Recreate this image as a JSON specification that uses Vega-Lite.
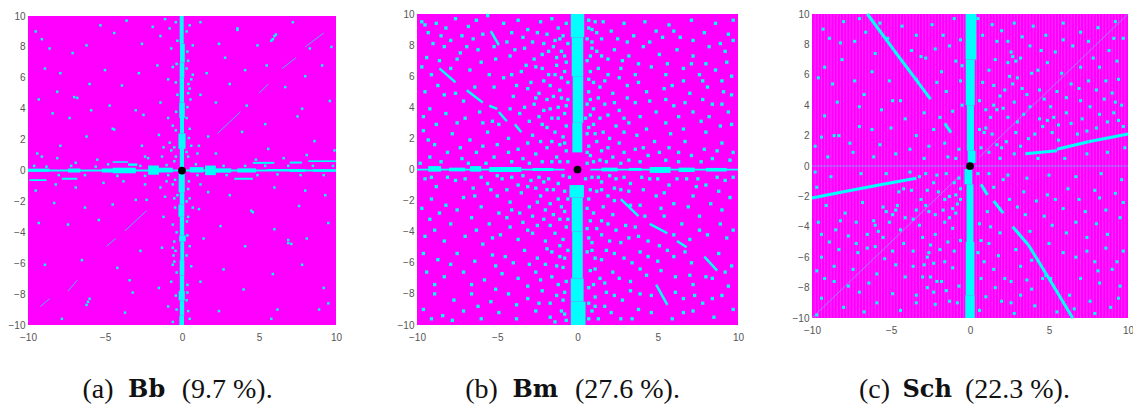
{"$schema":"https://vega.github.io/schema/vega-lite/v6.json","padding":{"left":8,"top":9,"right":0,"bottom":0},"background":"white","spacing":48,
"config":{"view":{"stroke":null},"axisX":{"title":null,"grid":false,"domain":false,"ticks":false,"labelPadding":7,"labelFont":"Liberation Sans","labelFontSize":10,"labelColor":"#555555","labelFlush":false,"labelOverlap":false},"axisY":{"title":null,"grid":false,"domain":false,"ticks":false,"labelPadding":3,"labelFont":"Liberation Sans","labelFontSize":10,"labelColor":"#555555","labelOverlap":false}},
"datasets":{
"bg":[{"x":-10,"x2":10,"y":-10,"y2":10}],
"dot":[{"x":0,"y":0}],
"capA":[{"x":-6.46,"y":-14.2,"t":"(a)"},{"x":-0.02,"y":-14.2,"t":"(9.7 %)."}],
"capAb":[{"x":-3.5,"y":-14.2,"t":"Bb"}],
"capB":[{"x":-7.0,"y":-14.2,"t":"(b)"},{"x":-0.16,"y":-14.2,"t":"(27.6 %)."}],
"capBb":[{"x":-4.05,"y":-14.2,"t":"Bm"}],
"capC":[{"x":-7.03,"y":-14.75,"t":"(c)"},{"x":-0.32,"y":-14.75,"t":"(22.3 %)."}],
"capCb":[{"x":-4.27,"y":-14.75,"t":"Sch"}],
"aRect":[{"x":-10,"x2":10,"y":-0.07,"y2":0.07},{"x":-10,"x2":-8.6,"y":-0.08,"y2":0.12},{"x":-7.4,"x2":-6.6,"y":-0.13,"y2":0.13},{"x":-5.2,"x2":-4.4,"y":-0.13,"y2":0.13},{"x":-4.5,"x2":-3,"y":-0.18,"y2":0.18},{"x":-2.2,"x2":-1.5,"y":-0.28,"y2":0.32},{"x":-1.5,"x2":-0.6,"y":-0.13,"y2":0.18},{"x":0.5,"x2":1.4,"y":-0.13,"y2":0.22},{"x":1.5,"x2":2.2,"y":-0.3,"y2":0.32},{"x":2.2,"x2":3.2,"y":-0.14,"y2":0.14},{"x":3.6,"x2":4.8,"y":-0.13,"y2":0.14},{"x":5.5,"x2":7,"y":0,"y2":0.1},{"x":7,"x2":8,"y":-0.09,"y2":0.09},{"x":8.5,"x2":10,"y":-0.08,"y2":0.08},{"x":-4.5,"x2":-3.5,"y":0.5,"y2":0.6},{"x":-3.5,"x2":-2.9,"y":0.3,"y2":0.46},{"x":-9.9,"x2":-8.8,"y":-0.68,"y2":-0.56},{"x":-7.8,"x2":-6.8,"y":-0.6,"y2":-0.47},{"x":3.4,"x2":4.6,"y":-0.6,"y2":-0.47},{"x":4.6,"x2":6,"y":0.43,"y2":0.56},{"x":7,"x2":7.8,"y":0.45,"y2":0.58},{"x":8.2,"x2":10,"y":0.55,"y2":0.66},{"y":-10,"y2":-9.4,"x":-0.17,"x2":0.13},{"y":-9.4,"y2":-8.4,"x":-0.14,"x2":0.14},{"y":-8.4,"y2":-7.8,"x":-0.22,"x2":0.18},{"y":-7.8,"y2":-6.8,"x":-0.14,"x2":0.14},{"y":-6.8,"y2":-5.8,"x":-0.15,"x2":0.15},{"y":-5.8,"y2":-4.6,"x":-0.11,"x2":0.14},{"y":-4.6,"y2":-4.2,"x":-0.18,"x2":0.24},{"y":-4.2,"y2":-3,"x":-0.14,"x2":0.14},{"y":-3,"y2":-2.2,"x":-0.23,"x2":0.15},{"y":-2.2,"y2":-1.4,"x":-0.15,"x2":0.15},{"y":-1.4,"y2":-0.2,"x":-0.22,"x2":0.18},{"y":0.2,"y2":1.4,"x":-0.14,"x2":0.13},{"y":1.4,"y2":2.4,"x":-0.23,"x2":0.23},{"y":2.4,"y2":3.4,"x":-0.13,"x2":0.13},{"y":3.4,"y2":4.4,"x":-0.18,"x2":0.18},{"y":4.4,"y2":6,"x":-0.15,"x2":0.13},{"y":6,"y2":7,"x":-0.15,"x2":0.15},{"y":7,"y2":8.2,"x":-0.13,"x2":0.18},{"y":8.2,"y2":10,"x":-0.15,"x2":0.11}],
"aLine":[{"x":2.3,"y":2.4,"x2":3.8,"y2":3.8},{"x":5,"y":5,"x2":5.6,"y2":5.6},{"x":6.5,"y":6.6,"x2":7.4,"y2":7.3},{"x":8,"y":8,"x2":9.2,"y2":8.9},{"x":-3.7,"y":-3.9,"x2":-2.3,"y2":-2.6},{"x":-4.9,"y":-4.9,"x2":-4.3,"y2":-4.4},{"x":-7.4,"y":-7.8,"x2":-6.8,"y2":-7.1},{"x":-9.2,"y":-8.8,"x2":-8.6,"y2":-8.3}],
"aPts":[{"x":5.9,"y":8.5},{"x":6,"y":8.7},{"x":6.1,"y":8.8},{"x":5.8,"y":8.4},{"x":-6.2,"y":-8.7},{"x":-6.1,"y":-8.5},{"x":-6,"y":-8.3},{"x":-7,"y":4.75},{"x":-6.8,"y":4.7},{"x":6.9,"y":-4.7},{"x":7.1,"y":-4.75},{"x":6.9,"y":-4.5},{"x":-9.5,"y":9},{"x":-9.1,"y":8.5},{"x":-8.6,"y":7.9},{"x":-8.9,"y":6.6},{"x":-7.9,"y":6.3},{"x":-7.1,"y":7.6},{"x":-6.2,"y":8.1},{"x":-5.3,"y":9.4},{"x":-4.4,"y":8.9},{"x":-3.6,"y":9.7},{"x":-2.6,"y":8.2},{"x":-1.9,"y":9.3},{"x":-1.4,"y":8.7},{"x":-1.1,"y":9.8},{"x":-0.8,"y":9.2},{"x":-0.7,"y":7.9},{"x":-0.6,"y":6.7},{"x":-0.9,"y":5.9},{"x":-1.6,"y":6.8},{"x":-2.8,"y":6.3},{"x":-3.9,"y":5.5},{"x":-5,"y":6.5},{"x":-6,"y":5.6},{"x":-8.1,"y":5.1},{"x":-9.3,"y":4.6},{"x":-8.4,"y":3.7},{"x":-7.3,"y":3.4},{"x":-5.9,"y":3.9},{"x":-4.7,"y":4.2},{"x":-3,"y":3.9},{"x":-2.5,"y":3.6},{"x":-1.4,"y":4.4},{"x":-0.9,"y":3.4},{"x":-0.6,"y":2.9},{"x":-0.8,"y":1.8},{"x":-1.5,"y":2.3},{"x":-2.6,"y":1.6},{"x":-4.5,"y":2.7},{"x":-4.4,"y":2.65},{"x":-6.2,"y":2.2},{"x":-7.9,"y":1.6},{"x":-9.4,"y":1.1},{"x":-9.1,"y":0.9},{"x":-8.1,"y":0.8},{"x":-6.9,"y":0.5},{"x":-5.5,"y":0.7},{"x":-2.2,"y":0.8},{"x":-1.3,"y":0.9},{"x":-0.7,"y":1.3},{"x":-0.5,"y":0.6},{"x":0.4,"y":0.9},{"x":0.6,"y":1.6},{"x":0.5,"y":2.7},{"x":0.3,"y":3.4},{"x":0.55,"y":4.6},{"x":0.5,"y":5.3},{"x":0.6,"y":5.9},{"x":0.7,"y":6.2},{"x":0.4,"y":7.1},{"x":0.7,"y":8.1},{"x":0.5,"y":9.4},{"x":1.2,"y":9.6},{"x":3.6,"y":9.2},{"x":3.6,"y":9.1},{"x":2.4,"y":8.2},{"x":2.8,"y":7.3},{"x":4.1,"y":6.5},{"x":4.9,"y":8.1},{"x":7.2,"y":9.6},{"x":8.3,"y":7.9},{"x":9.7,"y":8},{"x":9.1,"y":6.8},{"x":8,"y":6.1},{"x":6.7,"y":5.4},{"x":5.5,"y":6.8},{"x":3.1,"y":5.6},{"x":1.6,"y":6.3},{"x":1.2,"y":4.9},{"x":2.2,"y":4.4},{"x":4.2,"y":4.2},{"x":7.8,"y":4},{"x":9.6,"y":4.5},{"x":7.5,"y":3.5},{"x":5.4,"y":3},{"x":3.9,"y":2.5},{"x":1.7,"y":2.2},{"x":1.1,"y":1.6},{"x":2.2,"y":1.1},{"x":5.6,"y":1.4},{"x":8.6,"y":1.9},{"x":9.9,"y":1.3},{"x":4.8,"y":0.7},{"x":6.6,"y":0.8},{"x":8.1,"y":1},{"x":-9.5,"y":-1.3},{"x":-8.2,"y":-0.9},{"x":-6.9,"y":-1.1},{"x":-5.1,"y":-0.8},{"x":-3.8,"y":-0.7},{"x":-2.4,"y":-0.9},{"x":-1.4,"y":-1.1},{"x":-0.6,"y":-0.9},{"x":-0.5,"y":-1.8},{"x":-1.1,"y":-1.7},{"x":-2.3,"y":-1.9},{"x":-4.5,"y":-2.2},{"x":-6.3,"y":-2.4},{"x":-8.3,"y":-2.1},{"x":-9.3,"y":-3.4},{"x":-7.4,"y":-3.5},{"x":-5.4,"y":-3.2},{"x":-3,"y":-1.9},{"x":-1.2,"y":-3},{"x":-0.6,"y":-3.5},{"x":-0.5,"y":-4.6},{"x":-0.6,"y":-5},{"x":-0.55,"y":-5.5},{"x":-0.6,"y":-6.1},{"x":-1.3,"y":-5},{"x":-2.7,"y":-5.2},{"x":-4.2,"y":-6.3},{"x":-6.5,"y":-5.8},{"x":-8.9,"y":-6.1},{"x":-3.4,"y":-7.1},{"x":-3.2,"y":-7.9},{"x":-1.5,"y":-7.6},{"x":-0.7,"y":-7.2},{"x":-0.9,"y":-8.8},{"x":-0.6,"y":-9.8},{"x":-3.7,"y":-9.2},{"x":-7.8,"y":-9.6},{"x":0.4,"y":-1.2},{"x":0.5,"y":-1.8},{"x":0.7,"y":-2.4},{"x":0.4,"y":-3},{"x":1.1,"y":-2.5},{"x":1.7,"y":-1.4},{"x":3.1,"y":-1.6},{"x":2.5,"y":-3.6},{"x":4.5,"y":-2.6},{"x":4.6,"y":-2.7},{"x":6,"y":-1.1},{"x":8,"y":-1.3},{"x":9.3,"y":-1.6},{"x":7.6,"y":-2.3},{"x":9.5,"y":-3.4},{"x":8.1,"y":-4.4},{"x":6,"y":-3.8},{"x":4.1,"y":-4.9},{"x":1.4,"y":-4.4},{"x":0.5,"y":-4.9},{"x":0.6,"y":-6.2},{"x":1.2,"y":-7.2},{"x":2.7,"y":-6.4},{"x":4,"y":-7.7},{"x":5.9,"y":-6.7},{"x":7.8,"y":-6.1},{"x":9.2,"y":-7.6},{"x":9.5,"y":-8.6},{"x":8.9,"y":-9},{"x":6.2,"y":-9},{"x":5.8,"y":-9.6},{"x":2.4,"y":-9.1},{"x":0.5,"y":-9.6},{"x":0.3,"y":-8.4},{"x":-0.4,"y":9.6},{"x":0.3,"y":9},{"x":-0.3,"y":8.4},{"x":0.35,"y":7.7},{"x":-0.35,"y":6.9},{"x":0.3,"y":6.6},{"x":-0.4,"y":5.7},{"x":0.42,"y":5.6},{"x":-0.3,"y":4.9},{"x":0.4,"y":5},{"x":-0.38,"y":3.8},{"x":0.35,"y":4.1},{"x":-0.4,"y":2.6},{"x":0.45,"y":2.1},{"x":-0.5,"y":1.5},{"x":0.3,"y":1.2},{"x":-0.4,"y":0.9},{"x":-0.45,"y":-0.6},{"x":0.45,"y":-0.7},{"x":-0.3,"y":-1.6},{"x":0.3,"y":-2},{"x":-0.45,"y":-2.4},{"x":0.32,"y":-3.3},{"x":-0.35,"y":-4},{"x":0.35,"y":-4.2},{"x":-0.42,"y":-5.2},{"x":-0.5,"y":-5.9},{"x":0.3,"y":-5.5},{"x":-0.35,"y":-6.6},{"x":0.35,"y":-7.4},{"x":-0.4,"y":-8.1},{"x":0.35,"y":-7.9},{"x":-0.35,"y":-9},{"x":0.4,"y":-9.1},{"x":-9.6,"y":0.3},{"x":-8.8,"y":0.25},{"x":-8,"y":-0.3},{"x":-7.2,"y":0.3},{"x":-6.3,"y":-0.3},{"x":-5.6,"y":0.25},{"x":-4.8,"y":0.4},{"x":-4.2,"y":-0.35},{"x":-2.7,"y":0.3},{"x":-2.4,"y":-0.35},{"x":-1,"y":0.35},{"x":-0.9,"y":-0.3},{"x":0.9,"y":0.4},{"x":1,"y":-0.3},{"x":2.7,"y":0.3},{"x":2.9,"y":-0.3},{"x":4.1,"y":0.3},{"x":4.9,"y":-0.3},{"x":5.4,"y":0.3},{"x":6.2,"y":-0.25},{"x":6.9,"y":0.3},{"x":7.7,"y":-0.3},{"x":8.5,"y":0.3},{"x":9.2,"y":-0.3},{"x":9.8,"y":0.3},{"x":-2.4,"y":0.9},{"x":-1.2,"y":1.5},{"x":1,"y":1.1},{"x":-1,"y":-0.7},{"x":1.2,"y":-0.9}],
"bRect":[{"y":-10,"y2":-8.5,"x":-0.42,"x2":0.5},{"y":-8.5,"y2":-7,"x":-0.42,"x2":0.38},{"y":-7,"y2":-4,"x":-0.33,"x2":0.33},{"y":-4,"y2":-1.8,"x":-0.36,"x2":0.33},{"y":-1.8,"y2":-1,"x":-0.5,"x2":0.4},{"y":1.1,"y":1.1,"y2":3,"x":-0.32,"x2":0.3},{"y":3,"y2":6,"x":-0.3,"x2":0.36},{"y":6,"y2":8.5,"x":-0.36,"x2":0.36},{"y":8.5,"y2":10,"x":-0.42,"x2":0.42},{"x":-10,"x2":-0.8,"y":-0.06,"y2":0.05},{"x":0.8,"x2":10,"y":-0.06,"y2":0.05},{"x":-9.3,"x2":-8.5,"y":-0.14,"y2":0.22},{"x":-8,"x2":-7,"y":-0.12,"y2":0.12},{"x":-6.7,"x2":-6,"y":-0.14,"y2":0.22},{"x":-5.5,"x2":-3.5,"y":-0.16,"y2":0.16},{"x":-2.8,"x2":-1.5,"y":-0.1,"y2":0.1},{"x":1.5,"x2":2.5,"y":-0.12,"y2":0.12},{"x":3.2,"x2":4,"y":-0.08,"y2":0.1},{"x":4.5,"x2":5.8,"y":-0.22,"y2":0.16},{"x":6.3,"x2":7.3,"y":-0.16,"y2":0.12},{"x":8,"x2":9.3,"y":-0.13,"y2":0.1}],
"bLine":[{"x":-8.6,"y":6.5,"x2":-7.6,"y2":5.6},{"x":-6.9,"y":5.1,"x2":-5.9,"y2":4.3},{"x":-5.5,"y":4.1,"x2":-5,"y2":3.9},{"x":-4.9,"y":3.7,"x2":-4.4,"y2":3.1},{"x":-3.9,"y":2.9,"x2":-3.5,"y2":2.4},{"x":-5.4,"y":8.9,"x2":-4.9,"y2":8},{"x":2.7,"y":-1.9,"x2":3.8,"y2":-3},{"x":4.5,"y":-3.5,"x2":5.6,"y2":-4.1},{"x":6.2,"y":-4.6,"x2":6.8,"y2":-5},{"x":7.9,"y":-5.6,"x2":8.7,"y2":-6.5},{"x":4.9,"y":-7.4,"x2":5.6,"y2":-8.7}],
"bPts":[{"x":-9.7,"y":9.5},{"x":-9.3,"y":8.8},{"x":-8.8,"y":9.4},{"x":-8.2,"y":9.1},{"x":-7.6,"y":9.7},{"x":-7.2,"y":8.6},{"x":-6.8,"y":9.2},{"x":-6.3,"y":9.6},{"x":-5.9,"y":8.7},{"x":-4.6,"y":9.4},{"x":-4.1,"y":8.8},{"x":-3.7,"y":9.6},{"x":-3.1,"y":9},{"x":-2.8,"y":8.2},{"x":-2.3,"y":9.5},{"x":-1.9,"y":8.7},{"x":-1.6,"y":9.7},{"x":-1.2,"y":9.1},{"x":-0.9,"y":8.6},{"x":-0.7,"y":9.4},{"x":-0.6,"y":8.1},{"x":-1,"y":7.6},{"x":-1.5,"y":7.9},{"x":-2.2,"y":7.4},{"x":-3.3,"y":7.8},{"x":-4.2,"y":7.3},{"x":-5.1,"y":7.1},{"x":-6.2,"y":7.7},{"x":-7.3,"y":7.5},{"x":-8.3,"y":7.9},{"x":-9.4,"y":7.2},{"x":-9.1,"y":6.1},{"x":-7.9,"y":6.5},{"x":-6.7,"y":6.4},{"x":-5.5,"y":6.1},{"x":-4.6,"y":5.9},{"x":-3.5,"y":6.3},{"x":-2.6,"y":6.6},{"x":-1.8,"y":6.1},{"x":-1.3,"y":6.7},{"x":-0.8,"y":6.3},{"x":-0.6,"y":5.6},{"x":-1.1,"y":5.1},{"x":-1.7,"y":5.4},{"x":-1.5,"y":4.7},{"x":-2.4,"y":4.9},{"x":-3.1,"y":5.2},{"x":-4,"y":4.7},{"x":-5.2,"y":5.3},{"x":-7.1,"y":4.4},{"x":-8.3,"y":4.8},{"x":-9.5,"y":5},{"x":-9.2,"y":3.9},{"x":-8.2,"y":3.6},{"x":-7,"y":3.3},{"x":-6.1,"y":3.7},{"x":-4.9,"y":2.9},{"x":-3.6,"y":3.6},{"x":-2.7,"y":4.2},{"x":-2.1,"y":3.8},{"x":-1.6,"y":3.3},{"x":-1.2,"y":4},{"x":-0.8,"y":3.6},{"x":-0.6,"y":4.5},{"x":-0.7,"y":2.8},{"x":-0.9,"y":2.1},{"x":-1.4,"y":2.4},{"x":-2.2,"y":2.9},{"x":-2.8,"y":2.2},{"x":-3.1,"y":1.7},{"x":-4.3,"y":2},{"x":-5.6,"y":2.4},{"x":-6.7,"y":1.9},{"x":-7.8,"y":2.3},{"x":-8.9,"y":1.6},{"x":-9.6,"y":2.5},{"x":-9.2,"y":0.8},{"x":-8.1,"y":1.1},{"x":-7.2,"y":0.7},{"x":-6.3,"y":1.1},{"x":-5.2,"y":0.8},{"x":-4.3,"y":1.1},{"x":-3.4,"y":0.7},{"x":-2.6,"y":1},{"x":-1.9,"y":1.4},{"x":-1.3,"y":0.8},{"x":-0.7,"y":1.2},{"x":-0.6,"y":0.5},{"x":-1.6,"y":0.5},{"x":-0.5,"y":-0.5},{"x":-0.9,"y":-0.4},{"x":-1.8,"y":-0.6},{"x":-2.1,"y":-0.8},{"x":-1.2,"y":-0.9},{"x":-2.9,"y":-0.7},{"x":-3.7,"y":-1},{"x":-4.7,"y":-0.6},{"x":-5.6,"y":-0.9},{"x":-6.5,"y":-1.2},{"x":-7.6,"y":-0.7},{"x":-8.8,"y":-1.1},{"x":-9.5,"y":-0.6},{"x":-9.1,"y":-1.9},{"x":-8.2,"y":-2.3},{"x":-7.1,"y":-1.8},{"x":-6,"y":-2.4},{"x":-5,"y":-1.7},{"x":-4.2,"y":-2.1},{"x":-3.5,"y":-1.5},{"x":-3,"y":-2.4},{"x":-2.3,"y":-1.7},{"x":-1.7,"y":-2.2},{"x":-1.2,"y":-1.9},{"x":-0.8,"y":-2.7},{"x":-1.5,"y":-2.9},{"x":-2.1,"y":-3.2},{"x":-2.8,"y":-3},{"x":-3.4,"y":-3.4},{"x":-4.4,"y":-3.1},{"x":-5.5,"y":-3.5},{"x":-6.6,"y":-3.1},{"x":-7.9,"y":-3.5},{"x":-9.2,"y":-3.2},{"x":-9.5,"y":-4.3},{"x":-8.3,"y":-4.6},{"x":-7,"y":-4.3},{"x":-5.9,"y":-4.8},{"x":-4.8,"y":-4.2},{"x":-3.7,"y":-4.5},{"x":-2.8,"y":-4.1},{"x":-2,"y":-4.6},{"x":-1.4,"y":-4.1},{"x":-0.9,"y":-4.5},{"x":-0.7,"y":-3.7},{"x":-0.6,"y":-5.2},{"x":-1.1,"y":-5.6},{"x":-1.6,"y":-5.3},{"x":-2.5,"y":-5.7},{"x":-3.3,"y":-5.2},{"x":-4.5,"y":-5.6},{"x":-5.3,"y":-5.5},{"x":-6.4,"y":-5.9},{"x":-7.5,"y":-5.4},{"x":-8.7,"y":-5.8},{"x":-9.4,"y":-6.6},{"x":-8.3,"y":-6.9},{"x":-7.1,"y":-6.6},{"x":-5.8,"y":-7.1},{"x":-4.7,"y":-6.7},{"x":-3.7,"y":-7},{"x":-2.6,"y":-6.6},{"x":-1.6,"y":-6.9},{"x":-0.9,"y":-6.3},{"x":-0.7,"y":-7.2},{"x":-0.8,"y":-7.9},{"x":-1.3,"y":-8.1},{"x":-2.2,"y":-7.8},{"x":-3.1,"y":-8.3},{"x":-4.3,"y":-8},{"x":-5.4,"y":-8.5},{"x":-6.6,"y":-8},{"x":-7.7,"y":-8.4},{"x":-8.9,"y":-8},{"x":-9.6,"y":-9},{"x":-8.4,"y":-9.4},{"x":-7.1,"y":-9.1},{"x":-6,"y":-9.6},{"x":-4.9,"y":-9.2},{"x":-3.8,"y":-9.6},{"x":-2.6,"y":-9.1},{"x":-1.7,"y":-9.5},{"x":-1,"y":-9.1},{"x":-0.7,"y":-9.7},{"x":0.7,"y":9.6},{"x":0.9,"y":9},{"x":0.6,"y":8.4},{"x":1.2,"y":8.8},{"x":1.6,"y":9.5},{"x":2.1,"y":8.9},{"x":2.9,"y":9.4},{"x":3.5,"y":8.6},{"x":4.2,"y":9.5},{"x":4.9,"y":8.9},{"x":5.7,"y":9.3},{"x":6.4,"y":8.5},{"x":7.1,"y":9.6},{"x":7.9,"y":8.8},{"x":8.6,"y":9.4},{"x":9.4,"y":8.7},{"x":9.7,"y":9.6},{"x":9.2,"y":7.6},{"x":8.2,"y":7.9},{"x":7.2,"y":7.3},{"x":6.2,"y":7.7},{"x":5.1,"y":7.4},{"x":4.1,"y":7.9},{"x":3.2,"y":7.3},{"x":2.3,"y":7.7},{"x":1.5,"y":7.3},{"x":0.9,"y":7.8},{"x":0.6,"y":7},{"x":0.8,"y":6.3},{"x":1.3,"y":6.5},{"x":1.9,"y":6.1},{"x":2.7,"y":6.5},{"x":3.6,"y":6.1},{"x":4.6,"y":6.6},{"x":5.5,"y":6.1},{"x":6.6,"y":6.5},{"x":7.6,"y":6.1},{"x":8.6,"y":6.4},{"x":9.6,"y":6},{"x":9.1,"y":5},{"x":9.6,"y":4.8},{"x":8.1,"y":5.3},{"x":7,"y":4.9},{"x":5.9,"y":5.4},{"x":5.4,"y":5.2},{"x":4.3,"y":5},{"x":3.1,"y":5.4},{"x":2.2,"y":4.9},{"x":1.4,"y":5.3},{"x":0.7,"y":5},{"x":0.6,"y":4.2},{"x":1,"y":3.9},{"x":1.7,"y":4.2},{"x":2.6,"y":3.8},{"x":3.6,"y":4.3},{"x":4.9,"y":3.7},{"x":6,"y":4.1},{"x":7.2,"y":3.7},{"x":8.4,"y":4.2},{"x":9.4,"y":3.7},{"x":8.9,"y":2.8},{"x":7.7,"y":3.1},{"x":6.6,"y":2.6},{"x":5.5,"y":3},{"x":4.3,"y":2.6},{"x":3.2,"y":3},{"x":2.9,"y":2.4},{"x":2.4,"y":2.8},{"x":1.6,"y":2.4},{"x":1,"y":2.9},{"x":0.6,"y":2.3},{"x":0.5,"y":3.3},{"x":0.7,"y":1.5},{"x":1.2,"y":1.8},{"x":1.9,"y":1.4},{"x":2.6,"y":1.7},{"x":3.6,"y":1.3},{"x":4.8,"y":1.8},{"x":5.7,"y":1.4},{"x":6.7,"y":1.8},{"x":7.9,"y":1.3},{"x":9,"y":1.7},{"x":9.7,"y":1.1},{"x":8.4,"y":0.7},{"x":7.1,"y":0.9},{"x":5.5,"y":0.6},{"x":4.4,"y":0.9},{"x":3.2,"y":0.6},{"x":2.2,"y":0.8},{"x":1.4,"y":0.6},{"x":0.8,"y":0.9},{"x":0.6,"y":0.4},{"x":0.5,"y":-0.6},{"x":0.9,"y":-0.5},{"x":1.5,"y":-0.8},{"x":2.4,"y":-0.6},{"x":3.3,"y":-0.9},{"x":4.5,"y":-0.6},{"x":5.7,"y":-1},{"x":6.8,"y":-0.6},{"x":8,"y":-1},{"x":9.2,"y":-0.7},{"x":9.5,"y":-1.8},{"x":8.3,"y":-2.2},{"x":7.2,"y":-1.7},{"x":6,"y":-2.2},{"x":4.9,"y":-1.7},{"x":3.9,"y":-2.3},{"x":2.7,"y":-1.3},{"x":1.9,"y":-1.7},{"x":1.2,"y":-1.4},{"x":0.7,"y":-1.9},{"x":0.6,"y":-2.5},{"x":1,"y":-2.8},{"x":1.6,"y":-2.4},{"x":2.2,"y":-2.9},{"x":3,"y":-3.6},{"x":4.2,"y":-3},{"x":5.4,"y":-3},{"x":6.5,"y":-3.5},{"x":7.6,"y":-3},{"x":8.9,"y":-3.5},{"x":9.3,"y":-4.4},{"x":8.1,"y":-4.2},{"x":7,"y":-4.5},{"x":5.1,"y":-4.9},{"x":3.8,"y":-4.3},{"x":2.7,"y":-4.7},{"x":2.4,"y":-3.9},{"x":1.5,"y":-4.2},{"x":0.9,"y":-4.7},{"x":0.6,"y":-3.8},{"x":0.6,"y":-5.3},{"x":1.1,"y":-5.7},{"x":1.8,"y":-5.2},{"x":2.9,"y":-5.7},{"x":3.9,"y":-5.3},{"x":5,"y":-5.9},{"x":6,"y":-5.6},{"x":7.1,"y":-6},{"x":8.8,"y":-5.4},{"x":9.6,"y":-6.2},{"x":8.4,"y":-7},{"x":7.2,"y":-7.4},{"x":6.1,"y":-6.9},{"x":4.3,"y":-6.8},{"x":3.3,"y":-7.2},{"x":2.2,"y":-6.6},{"x":1.4,"y":-7},{"x":0.8,"y":-6.5},{"x":0.7,"y":-7.6},{"x":1.1,"y":-8.2},{"x":1.8,"y":-7.9},{"x":2.8,"y":-8.4},{"x":3.9,"y":-8},{"x":6.6,"y":-8.3},{"x":7.8,"y":-8.6},{"x":9,"y":-8.1},{"x":9.7,"y":-9},{"x":8.5,"y":-9.5},{"x":7.2,"y":-9.1},{"x":5.9,"y":-9.6},{"x":4.6,"y":-9.2},{"x":3.4,"y":-9.6},{"x":2.1,"y":-9.2},{"x":1.3,"y":-9.6},{"x":0.9,"y":-9.1},{"x":-9.5,"y":9.3},{"x":-9,"y":8.1},{"x":-8.5,"y":8.6},{"x":-7.9,"y":8.3},{"x":-7.5,"y":7.1},{"x":-6.9,"y":7.9},{"x":-6.5,"y":8.4},{"x":-5.6,"y":9.9},{"x":-5.2,"y":7.9},{"x":-4.4,"y":8.2},{"x":-3.9,"y":7.7},{"x":-3.4,"y":8.5},{"x":-2.5,"y":8.8},{"x":-2.1,"y":8.1},{"x":-1.4,"y":8.3},{"x":-1.1,"y":8.4},{"x":-0.8,"y":7.3},{"x":-1.3,"y":7.2},{"x":-1.8,"y":7.6},{"x":-2.7,"y":7.1},{"x":-0.7,"y":6.9},{"x":-1,"y":5.9},{"x":-1.4,"y":6.1},{"x":-2.1,"y":5.7},{"x":-2.2,"y":6.5},{"x":-3.2,"y":6.7},{"x":-4.1,"y":6.1},{"x":-6,"y":6.9},{"x":-8.6,"y":7},{"x":-9.7,"y":6.6},{"x":-8.7,"y":5.4},{"x":-7.6,"y":4.9},{"x":-6.4,"y":5.3},{"x":-3.8,"y":5.4},{"x":-2.9,"y":5.6},{"x":-2.6,"y":4.6},{"x":-1.9,"y":4.5},{"x":-1.7,"y":3.9},{"x":-1,"y":4.6},{"x":-0.7,"y":4.1},{"x":-1.2,"y":3.3},{"x":-1.9,"y":2.7},{"x":-2.4,"y":3.4},{"x":-3,"y":3.1},{"x":-3.3,"y":4},{"x":-4.2,"y":3.9},{"x":-5.3,"y":3.1},{"x":-5.9,"y":3},{"x":-7.5,"y":3},{"x":-8.8,"y":2.9},{"x":-9.6,"y":3.4},{"x":-9.3,"y":1.9},{"x":-7.3,"y":1.4},{"x":-5.9,"y":1.5},{"x":-5,"y":1.6},{"x":-3.7,"y":1.3},{"x":-2.3,"y":1.8},{"x":-1.6,"y":1.8},{"x":-1.1,"y":1.6},{"x":-0.8,"y":1.7},{"x":-1.1,"y":0.5},{"x":-2.2,"y":0.5},{"x":-3,"y":0.4},{"x":-4.1,"y":0.5},{"x":-5.7,"y":0.4},{"x":-6.8,"y":0.4},{"x":-8.5,"y":0.5},{"x":-9.8,"y":0.4},{"x":-9.1,"y":-0.5},{"x":-8.1,"y":-0.5},{"x":-7,"y":-0.6},{"x":-6,"y":-0.5},{"x":-5,"y":-0.4},{"x":-4.1,"y":-0.5},{"x":-3.4,"y":-0.4},{"x":-2.6,"y":-1.2},{"x":-2.4,"y":-0.5},{"x":-1.5,"y":-1.3},{"x":-0.8,"y":-1.4},{"x":-0.6,"y":-1.9},{"x":-1,"y":-2.4},{"x":-1.9,"y":-1.3},{"x":-2,"y":-2.6},{"x":-2.5,"y":-2.1},{"x":-3.6,"y":-2.8},{"x":-4.1,"y":-2.6},{"x":-4.9,"y":-2.8},{"x":-7.5,"y":-2.6},{"x":-8.6,"y":-2.8},{"x":-6.4,"y":-1.7},{"x":-5.4,"y":-1.3},{"x":-4.4,"y":-1.3},{"x":-3.1,"y":-1.1},{"x":-9.7,"y":-2.5},{"x":-8.9,"y":-3.9},{"x":-6.3,"y":-3.9},{"x":-5.3,"y":-4.4},{"x":-4.2,"y":-3.7},{"x":-3.1,"y":-3.9},{"x":-2.5,"y":-3.6},{"x":-1.7,"y":-3.6},{"x":-1.1,"y":-3.2},{"x":-0.6,"y":-3.2},{"x":-1.1,"y":-4.9},{"x":-1.9,"y":-5.1},{"x":-0.8,"y":-5.7},{"x":-1.3,"y":-6.2},{"x":-2,"y":-6.1},{"x":-3,"y":-6.1},{"x":-4,"y":-6},{"x":-5.1,"y":-6.2},{"x":-7.9,"y":-6.1},{"x":-9.6,"y":-5.4},{"x":-8.9,"y":-7.4},{"x":-6.6,"y":-7.4},{"x":-5.1,"y":-7.7},{"x":-3.1,"y":-7.5},{"x":-2.3,"y":-7.1},{"x":-1.2,"y":-7.4},{"x":-0.9,"y":-8.4},{"x":-1.7,"y":-8.6},{"x":-2.4,"y":-8.6},{"x":-3.8,"y":-8.7},{"x":-6.2,"y":-8.8},{"x":-7.8,"y":-9.7},{"x":-9.1,"y":-9.6},{"x":-0.8,"y":-9.3},{"x":-1.4,"y":-9.8},{"x":0.7,"y":9.1},{"x":1.1,"y":9.5},{"x":1.5,"y":8.4},{"x":0.9,"y":8.2},{"x":2.5,"y":8.4},{"x":3.1,"y":8.2},{"x":4.5,"y":8.2},{"x":5.3,"y":8.5},{"x":6,"y":8.9},{"x":7.2,"y":8.3},{"x":8.9,"y":8.1},{"x":9.7,"y":8.3},{"x":0.8,"y":7.3},{"x":1.2,"y":7.6},{"x":1.9,"y":7.1},{"x":2.8,"y":7},{"x":3.8,"y":6.8},{"x":5.6,"y":6.8},{"x":7.1,"y":6.8},{"x":8,"y":6.8},{"x":9.3,"y":6.9},{"x":0.7,"y":5.8},{"x":1,"y":5.6},{"x":1.7,"y":5.7},{"x":2.6,"y":5.9},{"x":3.8,"y":5.6},{"x":6.6,"y":5.7},{"x":7.8,"y":5.7},{"x":9,"y":5.7},{"x":0.8,"y":4.5},{"x":1.3,"y":4.6},{"x":2.3,"y":4.3},{"x":3.1,"y":4.6},{"x":4.5,"y":4.4},{"x":5.5,"y":4.5},{"x":6.7,"y":4.3},{"x":7.8,"y":4.5},{"x":9,"y":4.2},{"x":0.8,"y":3.5},{"x":1.4,"y":3.3},{"x":1.9,"y":3.5},{"x":2.9,"y":3.3},{"x":3.9,"y":3.4},{"x":6.3,"y":3.4},{"x":8.2,"y":3.4},{"x":9.6,"y":2.9},{"x":8,"y":2.4},{"x":5.8,"y":2.3},{"x":3.7,"y":2.2},{"x":2,"y":2},{"x":1.1,"y":2.3},{"x":0.7,"y":2.7},{"x":0.6,"y":1.1},{"x":1.5,"y":1.2},{"x":2.9,"y":1.1},{"x":4.1,"y":1.4},{"x":5.1,"y":1.1},{"x":6.3,"y":1.1},{"x":8.7,"y":1.2},{"x":9.5,"y":0.6},{"x":7.7,"y":0.5},{"x":6.3,"y":0.5},{"x":3.9,"y":0.5},{"x":2.7,"y":0.4},{"x":1.8,"y":0.5},{"x":1,"y":0.5},{"x":1.3,"y":-0.5},{"x":2,"y":-0.4},{"x":2.9,"y":-0.5},{"x":4,"y":-0.5},{"x":5,"y":-0.6},{"x":6.2,"y":-0.6},{"x":7.5,"y":-0.6},{"x":8.7,"y":-0.5},{"x":9.7,"y":-0.5},{"x":8.8,"y":-1.4},{"x":7.4,"y":-1.1},{"x":5.4,"y":-1.5},{"x":4.1,"y":-1.3},{"x":3.2,"y":-1.4},{"x":2.3,"y":-1.2},{"x":1.5,"y":-1.3},{"x":0.8,"y":-1.3},{"x":2.3,"y":-2},{"x":3.3,"y":-2.3},{"x":5.2,"y":-2.5},{"x":6.9,"y":-2.4},{"x":9,"y":-2.6},{"x":0.8,"y":-3.3},{"x":1.5,"y":-3.3},{"x":1.9,"y":-3.5},{"x":3.6,"y":-3.7},{"x":6,"y":-4.2},{"x":7.6,"y":-3.9},{"x":9.7,"y":-3.9},{"x":0.7,"y":-4.4},{"x":1.2,"y":-3.8},{"x":2,"y":-4.6},{"x":3.2,"y":-4.4},{"x":4.4,"y":-4.6},{"x":0.9,"y":-5.2},{"x":1.5,"y":-5.8},{"x":2.3,"y":-5.4},{"x":3.4,"y":-6},{"x":4.4,"y":-5.6},{"x":5.6,"y":-5.2},{"x":6.7,"y":-5.3},{"x":8,"y":-6.9},{"x":9.2,"y":-6.6},{"x":7,"y":-6.8},{"x":5.2,"y":-6.5},{"x":3.9,"y":-6.4},{"x":2.6,"y":-7},{"x":1.1,"y":-6.4},{"x":1,"y":-7.4},{"x":1.7,"y":-7.3},{"x":2.3,"y":-8.1},{"x":3.3,"y":-7.8},{"x":4.6,"y":-8.1},{"x":6.1,"y":-7.9},{"x":7.3,"y":-8.1},{"x":8.4,"y":-8.3},{"x":9.4,"y":-7.5},{"x":6.6,"y":-9.2},{"x":3.8,"y":-9},{"x":2.7,"y":-9.6},{"x":1.7,"y":-8.8},{"x":0.7,"y":-8.6},{"x":1.1,"y":-8.8},{"x":0.7,"y":-9.6}],
"cRect":[{"y":-10,"y2":-8.5,"x":-0.3,"x2":0.3},{"y":-8.5,"y2":-5,"x":-0.27,"x2":0.28},{"y":-5,"y2":-1.2,"x":-0.22,"x2":0.22},{"y":-1.2,"y2":-0.2,"x":-0.35,"x2":0.15},{"y":0.2,"y2":1,"x":-0.15,"x2":0.35},{"y":1,"y2":4,"x":-0.2,"x2":0.25},{"y":4,"y2":7,"x":-0.27,"x2":0.3},{"y":7,"y2":10,"x":-0.28,"x2":0.4}],
"cThin":[{"x":-10,"y":0,"x2":10,"y2":0},{"x":-10,"y":-10,"x2":-0.6,"y2":-0.6},{"x":0.6,"y":0.6,"x2":10,"y2":10}],
"cLine":[{"x":-6.5,"y":10,"x2":-4.8,"y2":7.6},{"x":-4.8,"y":7.6,"x2":-3.5,"y2":5.8},{"x":-3.5,"y":5.8,"x2":-2.5,"y2":4.4},{"x":-1.6,"y":2.8,"x2":-1.2,"y2":2.2},{"x":0.7,"y":-1.2,"x2":1.1,"y2":-1.9},{"x":1.5,"y":-2.3,"x2":2.1,"y2":-3.1},{"x":2.7,"y":-4,"x2":3.7,"y2":-5.2},{"x":3.7,"y":-5.2,"x2":5,"y2":-7.4},{"x":5,"y":-7.4,"x2":6.5,"y2":-10},{"x":3.5,"y":0.8,"x2":5.5,"y2":1},{"x":5.5,"y":1.1,"x2":7.5,"y2":1.6},{"x":7.5,"y":1.6,"x2":10,"y2":2.1},{"x":-10,"y":-2.1,"x2":-8,"y2":-1.7},{"x":-8,"y":-1.7,"x2":-5.5,"y2":-1.2},{"x":-5.5,"y":-1.2,"x2":-3.4,"y2":-0.8}],
"cPts":[{"x":-9.8,"y":1.3},{"x":-9.3,"y":9},{"x":-8.9,"y":8.4},{"x":-8,"y":9.5},{"x":-7.3,"y":8.2},{"x":-6.6,"y":8.8},{"x":-5.7,"y":9.4},{"x":-4.3,"y":9.2},{"x":-3.4,"y":8.6},{"x":-2.4,"y":9.3},{"x":-1.7,"y":8.6},{"x":-1,"y":9.7},{"x":-0.6,"y":8.3},{"x":-0.5,"y":6.6},{"x":-0.6,"y":5.6},{"x":-0.5,"y":4},{"x":-2.2,"y":7.7},{"x":-2.8,"y":7.1},{"x":-3.7,"y":7.6},{"x":-6,"y":7.4},{"x":-8.1,"y":7},{"x":-9.2,"y":6.5},{"x":-9.6,"y":5.8},{"x":-7.3,"y":5.6},{"x":-6.2,"y":6.2},{"x":-5.1,"y":5.6},{"x":-4.4,"y":4.3},{"x":-2.1,"y":5.5},{"x":-1.5,"y":4.9},{"x":-1.1,"y":3.6},{"x":-2.9,"y":3.5},{"x":-4.1,"y":3.1},{"x":-5.6,"y":3.7},{"x":-7,"y":3.9},{"x":-8.4,"y":4.2},{"x":-9.2,"y":3.3},{"x":-8.6,"y":2},{"x":-8.3,"y":2},{"x":-7.6,"y":1.5},{"x":-6.2,"y":2.4},{"x":-5,"y":2.5},{"x":-3.4,"y":2},{"x":-2.6,"y":1.3},{"x":-1.6,"y":1.5},{"x":-0.7,"y":1.1},{"x":-1.4,"y":0.6},{"x":-2.9,"y":0.5},{"x":-4.7,"y":0.8},{"x":-6.1,"y":0.6},{"x":-7.4,"y":0.9},{"x":-9,"y":0.6},{"x":-9.8,"y":-0.4},{"x":-9.7,"y":-1.4},{"x":-8.8,"y":-0.7},{"x":-6.9,"y":-0.5},{"x":-5.3,"y":-0.5},{"x":-3.8,"y":-0.4},{"x":-3.2,"y":-0.7},{"x":-2.8,"y":-0.5},{"x":-1.5,"y":-0.5},{"x":-0.7,"y":-0.8},{"x":-0.6,"y":-1.5},{"x":-1,"y":-1.1},{"x":-1.3,"y":-2},{"x":-0.9,"y":-1.9},{"x":-0.6,"y":-2.2},{"x":-0.8,"y":-2.5},{"x":-1.6,"y":-2.2},{"x":-2,"y":-1.7},{"x":-2.3,"y":-1.1},{"x":-2.7,"y":-1.6},{"x":-3.1,"y":-2.2},{"x":-3.7,"y":-1.6},{"x":-4.2,"y":-1.5},{"x":-4.6,"y":-2.6},{"x":-4.7,"y":-2.9},{"x":-4.9,"y":-3.2},{"x":-5.3,"y":-3},{"x":-5.5,"y":-2.7},{"x":-6.1,"y":-3.6},{"x":-6.8,"y":-2.4},{"x":-7.9,"y":-3.1},{"x":-9.1,"y":-2.6},{"x":-9.6,"y":-3.7},{"x":-9.4,"y":-4.5},{"x":-8.5,"y":-4.2},{"x":-7.7,"y":-4.6},{"x":-6.5,"y":-4.5},{"x":-6,"y":-3.9},{"x":-5.5,"y":-4.7},{"x":-4.4,"y":-4.2},{"x":-3.6,"y":-3.5},{"x":-3.2,"y":-3.9},{"x":-2.6,"y":-3},{"x":-2.2,"y":-4.5},{"x":-1.6,"y":-3.7},{"x":-1.3,"y":-3.4},{"x":-1.1,"y":-4.1},{"x":-0.9,"y":-3.1},{"x":-0.6,"y":-4.9},{"x":-1.4,"y":-5},{"x":-2.5,"y":-5.2},{"x":-3.6,"y":-5.6},{"x":-4.9,"y":-5.6},{"x":-6,"y":-5.3},{"x":-7.1,"y":-5.7},{"x":-8.3,"y":-5.5},{"x":-9.4,"y":-6},{"x":-9.7,"y":-6.9},{"x":-8.6,"y":-6.6},{"x":-7.4,"y":-6.8},{"x":-5.9,"y":-7.1},{"x":-4.7,"y":-6.5},{"x":-3.6,"y":-6.6},{"x":-3,"y":-7.3},{"x":-2.7,"y":-6},{"x":-2.6,"y":-5.7},{"x":-2.3,"y":-6.4},{"x":-2.1,"y":-7.6},{"x":-2.5,"y":-7.3},{"x":-2.7,"y":-8},{"x":-1.8,"y":-7.6},{"x":-1.1,"y":-6.7},{"x":-0.7,"y":-7.9},{"x":-1.3,"y":-8.9},{"x":-2.2,"y":-9.1},{"x":-3.4,"y":-8.5},{"x":-3.4,"y":-9},{"x":-4.9,"y":-8.4},{"x":-5.9,"y":-9},{"x":-7,"y":-8.3},{"x":-8,"y":-9.3},{"x":-9.4,"y":-8.7},{"x":-9.7,"y":-9.8},{"x":-7.7,"y":-7.9},{"x":0.5,"y":9.7},{"x":0.8,"y":8.6},{"x":1.4,"y":9.3},{"x":2,"y":8.9},{"x":2.8,"y":9.4},{"x":3.3,"y":8.5},{"x":4,"y":9.2},{"x":4.8,"y":8.6},{"x":5.9,"y":9.4},{"x":7,"y":8.8},{"x":8.1,"y":9.1},{"x":9.2,"y":9.5},{"x":9.7,"y":8.4},{"x":8.8,"y":7.6},{"x":7.8,"y":7.1},{"x":6.5,"y":7.9},{"x":5.4,"y":7.5},{"x":4.9,"y":6.8},{"x":2.6,"y":7.5},{"x":2.7,"y":7.2},{"x":2.4,"y":6.8},{"x":2.9,"y":6.9},{"x":2.5,"y":5.9},{"x":2.7,"y":5.4},{"x":2.2,"y":5},{"x":1.6,"y":7},{"x":1.2,"y":6.3},{"x":0.8,"y":5.5},{"x":0.6,"y":4.3},{"x":1,"y":3.7},{"x":1.5,"y":4},{"x":1.7,"y":3.7},{"x":1.3,"y":3.2},{"x":3.4,"y":3.4},{"x":2.8,"y":4.2},{"x":3.6,"y":4.7},{"x":3.9,"y":6.1},{"x":4.4,"y":5},{"x":5.1,"y":3.9},{"x":5.3,"y":3.2},{"x":5.6,"y":2.7},{"x":5.2,"y":2.2},{"x":4.6,"y":2.6},{"x":4.4,"y":3.1},{"x":6.1,"y":4.5},{"x":6.4,"y":5.4},{"x":7,"y":4.3},{"x":7.5,"y":5.6},{"x":8,"y":5},{"x":8.5,"y":4.4},{"x":9,"y":4.8},{"x":9.4,"y":5.7},{"x":9.6,"y":4},{"x":9.1,"y":3.5},{"x":8.2,"y":3.4},{"x":7.1,"y":3.1},{"x":6.4,"y":2.8},{"x":6.8,"y":2.1},{"x":8,"y":2.5},{"x":9.4,"y":3},{"x":9.8,"y":1.2},{"x":8.7,"y":0.9},{"x":7.4,"y":0.8},{"x":6,"y":0.5},{"x":4.3,"y":0.5},{"x":3.7,"y":1.8},{"x":2.9,"y":2.2},{"x":2.3,"y":1.6},{"x":2,"y":1.2},{"x":1.4,"y":2.1},{"x":0.9,"y":2.2},{"x":0.6,"y":2.4},{"x":1,"y":2.5},{"x":0.7,"y":1.2},{"x":1.2,"y":0.9},{"x":1.9,"y":0.5},{"x":2.8,"y":0.8},{"x":0.5,"y":-0.5},{"x":1.2,"y":-0.5},{"x":2.4,"y":-0.6},{"x":3.6,"y":-0.8},{"x":5,"y":-0.6},{"x":6.7,"y":-0.7},{"x":8.3,"y":-0.5},{"x":9.6,"y":-0.9},{"x":9.2,"y":-1.8},{"x":7.9,"y":-1.6},{"x":6.2,"y":-1.5},{"x":4.9,"y":-1.9},{"x":3.4,"y":-1.7},{"x":2.5,"y":-2.2},{"x":1.1,"y":-3},{"x":0.6,"y":-3.8},{"x":0.5,"y":-5.7},{"x":1.2,"y":-5.1},{"x":1.9,"y":-4.4},{"x":3.5,"y":-3.2},{"x":4.7,"y":-3.3},{"x":5.9,"y":-2.8},{"x":7.3,"y":-3},{"x":8.6,"y":-2.9},{"x":9.5,"y":-3.4},{"x":8.7,"y":-4.5},{"x":9.7,"y":-5.6},{"x":7.4,"y":-4.7},{"x":6.1,"y":-4.4},{"x":5,"y":-5.1},{"x":6.7,"y":-6},{"x":7.9,"y":-6.3},{"x":9,"y":-6.8},{"x":9.5,"y":-7.9},{"x":8.2,"y":-7.7},{"x":7,"y":-7.4},{"x":6.3,"y":-8.5},{"x":7.6,"y":-8.9},{"x":8.9,"y":-9.3},{"x":7.9,"y":-9.7},{"x":4.8,"y":-7.2},{"x":4.6,"y":-7.4},{"x":5.1,"y":-7.4},{"x":3.2,"y":-6.6},{"x":2.6,"y":-7.6},{"x":2.2,"y":-7.4},{"x":1.5,"y":-6.8},{"x":0.7,"y":-7.4},{"x":1,"y":-8.6},{"x":2,"y":-8.9},{"x":3.2,"y":-8.5},{"x":4.1,"y":-9.2},{"x":5.5,"y":-9.6},{"x":2.8,"y":-9.7},{"x":0.6,"y":-9.5},{"x":-8.2,"y":8.1},{"x":-7,"y":9.7},{"x":-5.2,"y":8.4},{"x":-3.1,"y":7.2},{"x":-1.3,"y":7.9},{"x":-0.9,"y":6.9},{"x":-1.8,"y":6.2},{"x":-3.4,"y":5.7},{"x":-4.9,"y":4.3},{"x":-6.7,"y":4.7},{"x":-8.7,"y":5.4},{"x":-1.9,"y":3.2},{"x":-2.3,"y":2.4},{"x":-3.8,"y":1.1},{"x":-5.7,"y":1.4},{"x":-7,"y":2.6},{"x":-9.4,"y":1.9},{"x":-0.9,"y":0.5},{"x":-2.1,"y":-0.6},{"x":-4.5,"y":-1.7},{"x":-1.7,"y":-2.9},{"x":-1.1,"y":-2.8},{"x":-2.2,"y":-3.2},{"x":-2.8,"y":-2.6},{"x":-3.4,"y":-2.9},{"x":-4.1,"y":-3.4},{"x":-5.1,"y":-3.7},{"x":-5.8,"y":-4.3},{"x":-7.2,"y":-3.7},{"x":-8.2,"y":-3.6},{"x":-8.9,"y":-5},{"x":-7.2,"y":-5.1},{"x":-6.5,"y":-5.4},{"x":-5.4,"y":-6.1},{"x":-4.2,"y":-5.1},{"x":-3,"y":-4.7},{"x":-1.9,"y":-5.5},{"x":-1.6,"y":-6.3},{"x":-1,"y":-5.6},{"x":-2.9,"y":-6.5},{"x":-4.1,"y":-7.3},{"x":-6.4,"y":-7.7},{"x":-8.6,"y":-7.6},{"x":-9.2,"y":-7.4},{"x":-2.3,"y":-8.3},{"x":-1.5,"y":-8.2},{"x":-0.8,"y":-9},{"x":-4.4,"y":-9.5},{"x":-6.7,"y":-9.6},{"x":1.7,"y":8.2},{"x":2.4,"y":8.2},{"x":3.8,"y":7.9},{"x":4.5,"y":7.6},{"x":5.9,"y":8.3},{"x":7.5,"y":8.2},{"x":9.1,"y":8.4},{"x":9.3,"y":6.9},{"x":8.2,"y":6.5},{"x":7,"y":6.5},{"x":5.8,"y":6.1},{"x":4.3,"y":6.3},{"x":3.2,"y":7.1},{"x":3,"y":5.8},{"x":3.3,"y":5.1},{"x":1.5,"y":5.3},{"x":1.9,"y":4.6},{"x":2.1,"y":3.8},{"x":2.4,"y":3.2},{"x":3,"y":2.9},{"x":3.8,"y":3.9},{"x":4.7,"y":4.4},{"x":5.5,"y":4.9},{"x":6.9,"y":5.1},{"x":8.6,"y":5.6},{"x":9.2,"y":4.2},{"x":7.6,"y":3.9},{"x":6.1,"y":3.5},{"x":4.9,"y":3},{"x":4.1,"y":2.1},{"x":5.6,"y":1.7},{"x":7.4,"y":2.3},{"x":8.7,"y":2.9},{"x":9.7,"y":2.6},{"x":1.7,"y":1.4},{"x":3.2,"y":1.3},{"x":2.1,"y":-0.9},{"x":1.5,"y":-1.4},{"x":3,"y":-2.7},{"x":4.2,"y":-2.3},{"x":5.4,"y":-2.2},{"x":6.9,"y":-2.2},{"x":8.2,"y":-2.1},{"x":9.7,"y":-2.4},{"x":8,"y":-3.8},{"x":6.7,"y":-3.7},{"x":5.2,"y":-3.9},{"x":3.8,"y":-4.3},{"x":2.9,"y":-5.5},{"x":1.3,"y":-4},{"x":0.7,"y":-4.9},{"x":1.8,"y":-5.9},{"x":3.9,"y":-6.2},{"x":5.9,"y":-5.7},{"x":7.4,"y":-5.6},{"x":8.6,"y":-5.4},{"x":9.3,"y":-6.3},{"x":8.1,"y":-6.9},{"x":3.6,"y":-7.5},{"x":0.9,"y":-6.3},{"x":1.6,"y":-8},{"x":2.6,"y":-9},{"x":3.9,"y":-8.1},{"x":6.6,"y":-9.4},{"x":9.4,"y":-8.7}],
"cStripe":[{"x":-9.8,"y":-10},{"x":-9.6,"y":-10},{"x":-9.4,"y":-10},{"x":-9.2,"y":-10},{"x":-9,"y":-10},{"x":-8.8,"y":-10},{"x":-8.6,"y":-10},{"x":-8.4,"y":-10},{"x":-8.2,"y":-10},{"x":-8,"y":-10},{"x":-7.8,"y":-10},{"x":-7.6,"y":-10},{"x":-7.4,"y":-10},{"x":-7.2,"y":-10},{"x":-7,"y":-10},{"x":-6.8,"y":-10},{"x":-6.6,"y":-10},{"x":-6.4,"y":-10},{"x":-6.2,"y":-10},{"x":-6,"y":-10},{"x":-5.8,"y":-10},{"x":-5.6,"y":-10},{"x":-5.4,"y":-10},{"x":-5.2,"y":-10},{"x":-5,"y":-10},{"x":-4.8,"y":-10},{"x":-4.6,"y":-10},{"x":-4.4,"y":-10},{"x":-4.2,"y":-10},{"x":-4,"y":-10},{"x":-3.8,"y":-10},{"x":-3.6,"y":-10},{"x":-3.4,"y":-10},{"x":-3.2,"y":-10},{"x":-3,"y":-10},{"x":-2.8,"y":-10},{"x":-2.6,"y":-10},{"x":-2.4,"y":-10},{"x":-2.2,"y":-10},{"x":-2,"y":-10},{"x":-1.8,"y":-10},{"x":-1.6,"y":-10},{"x":-1.4,"y":-10},{"x":-1.2,"y":-10},{"x":-1,"y":-10},{"x":-0.8,"y":-10},{"x":-0.6,"y":-10},{"x":-0.4,"y":-10},{"x":0.4,"y":-10},{"x":0.6,"y":-10},{"x":0.8,"y":-10},{"x":1,"y":-10},{"x":1.2,"y":-10},{"x":1.4,"y":-10},{"x":1.6,"y":-10},{"x":1.8,"y":-10},{"x":2,"y":-10},{"x":2.2,"y":-10},{"x":2.4,"y":-10},{"x":2.6,"y":-10},{"x":2.8,"y":-10},{"x":3,"y":-10},{"x":3.2,"y":-10},{"x":3.4,"y":-10},{"x":3.6,"y":-10},{"x":3.8,"y":-10},{"x":4,"y":-10},{"x":4.2,"y":-10},{"x":4.4,"y":-10},{"x":4.6,"y":-10},{"x":4.8,"y":-10},{"x":5,"y":-10},{"x":5.2,"y":-10},{"x":5.4,"y":-10},{"x":5.6,"y":-10},{"x":5.8,"y":-10},{"x":6,"y":-10},{"x":6.2,"y":-10},{"x":6.4,"y":-10},{"x":6.6,"y":-10},{"x":6.8,"y":-10},{"x":7,"y":-10},{"x":7.2,"y":-10},{"x":7.4,"y":-10},{"x":7.6,"y":-10},{"x":7.8,"y":-10},{"x":8,"y":-10},{"x":8.2,"y":-10},{"x":8.4,"y":-10},{"x":8.6,"y":-10},{"x":8.8,"y":-10},{"x":9,"y":-10},{"x":9.2,"y":-10},{"x":9.4,"y":-10},{"x":9.6,"y":-10},{"x":9.8,"y":-10}]
},
"hconcat":[
{"spacing":55,"hconcat":[
{"width":308,"height":311,"encoding":{"x":{"field":"x","type":"quantitative","scale":{"domain":[-10,10],"nice":false,"zero":false},"axis":{"values":[-10,-5,0,5,10]}},"y":{"field":"y","type":"quantitative","scale":{"domain":[-10,10.13],"nice":false,"zero":false},"axis":{"values":[-10,-8,-6,-4,-2,0,2,4,6,8,10]}}},
"layer":[
{"data":{"name":"bg"},"mark":{"type":"rect","color":"#ff00ff"},"encoding":{"x2":{"field":"x2"},"y2":{"field":"y2"}}},
{"data":{"name":"aLine"},"mark":{"type":"rule","color":"#00ffff","strokeWidth":1,"opacity":0.7},"encoding":{"x2":{"field":"x2"},"y2":{"field":"y2"}}},
{"data":{"name":"aRect"},"mark":{"type":"rect","color":"#00ffff"},"encoding":{"x2":{"field":"x2"},"y2":{"field":"y2"}}},
{"data":{"name":"aPts"},"mark":{"type":"square","color":"#00ffff","filled":true,"size":6,"opacity":1}},
{"data":{"name":"dot"},"mark":{"type":"point","shape":"circle","color":"black","filled":true,"size":60,"opacity":1}},
{"data":{"name":"capA"},"mark":{"type":"text","align":"left","baseline":"middle","font":"Liberation Serif","fontSize":28,"color":"#111"},"encoding":{"text":{"field":"t"}}},
{"data":{"name":"capAb"},"mark":{"type":"text","align":"left","baseline":"middle","font":"DejaVu Serif","fontWeight":"bold","fontSize":24,"color":"#111"},"encoding":{"text":{"field":"t"}}}
]},
{"width":321,"height":311,"encoding":{"x":{"field":"x","type":"quantitative","scale":{"domain":[-10,10],"nice":false,"zero":false},"axis":{"values":[-10,-5,0,5,10]}},"y":{"field":"y","type":"quantitative","scale":{"domain":[-10,10],"nice":false,"zero":false},"axis":{"values":[-10,-8,-6,-4,-2,0,2,4,6,8,10]}}},
"layer":[
{"data":{"name":"bg"},"mark":{"type":"rect","color":"#ff00ff"},"encoding":{"x2":{"field":"x2"},"y2":{"field":"y2"}}},
{"data":{"name":"bLine"},"mark":{"type":"rule","color":"#00ffff","strokeWidth":2.5},"encoding":{"x2":{"field":"x2"},"y2":{"field":"y2"}}},
{"data":{"name":"bRect"},"mark":{"type":"rect","color":"#00ffff"},"encoding":{"x2":{"field":"x2"},"y2":{"field":"y2"}}},
{"data":{"name":"bPts"},"mark":{"type":"square","color":"#00ffff","filled":true,"size":11,"opacity":1}},
{"data":{"name":"dot"},"mark":{"type":"point","shape":"circle","color":"black","filled":true,"size":60,"opacity":1}},
{"data":{"name":"capB"},"mark":{"type":"text","align":"left","baseline":"middle","font":"Liberation Serif","fontSize":28,"color":"#111"},"encoding":{"text":{"field":"t"}}},
{"data":{"name":"capBb"},"mark":{"type":"text","align":"left","baseline":"middle","font":"DejaVu Serif","fontWeight":"bold","fontSize":24,"color":"#111"},"encoding":{"text":{"field":"t"}}}
]}
]},
{"width":316,"height":304,"encoding":{"x":{"field":"x","type":"quantitative","scale":{"domain":[-10,10],"nice":false,"zero":false},"axis":{"values":[-10,-5,0,5,10]}},"y":{"field":"y","type":"quantitative","scale":{"domain":[-10,10],"nice":false,"zero":false},"axis":{"values":[-10,-8,-6,-4,-2,0,2,4,6,8,10]}}},
"layer":[
{"data":{"name":"bg"},"mark":{"type":"rect","color":"#ff00ff"},"encoding":{"x2":{"field":"x2"},"y2":{"field":"y2"}}},
{"data":{"name":"cStripe"},"mark":{"type":"rule","color":"#ff7fff","strokeWidth":1,"opacity":0.35},"encoding":{"y2":{"datum":10}}},
{"data":{"name":"cThin"},"mark":{"type":"rule","color":"#40e0ff","strokeWidth":1,"opacity":0.55},"encoding":{"x2":{"field":"x2"},"y2":{"field":"y2"}}},
{"data":{"name":"cLine"},"mark":{"type":"rule","color":"#00ffff","strokeWidth":3},"encoding":{"x2":{"field":"x2"},"y2":{"field":"y2"}}},
{"data":{"name":"cRect"},"mark":{"type":"rect","color":"#00ffff"},"encoding":{"x2":{"field":"x2"},"y2":{"field":"y2"}}},
{"data":{"name":"cPts"},"mark":{"type":"square","color":"#00ffff","filled":true,"size":9,"opacity":1}},
{"data":{"name":"dot"},"mark":{"type":"point","shape":"circle","color":"black","filled":true,"size":60,"opacity":1}},
{"data":{"name":"capC"},"mark":{"type":"text","align":"left","baseline":"middle","font":"Liberation Serif","fontSize":28,"color":"#111"},"encoding":{"text":{"field":"t"}}},
{"data":{"name":"capCb"},"mark":{"type":"text","align":"left","baseline":"middle","font":"DejaVu Serif","fontWeight":"bold","fontSize":24,"color":"#111"},"encoding":{"text":{"field":"t"}}}
]}
]}
